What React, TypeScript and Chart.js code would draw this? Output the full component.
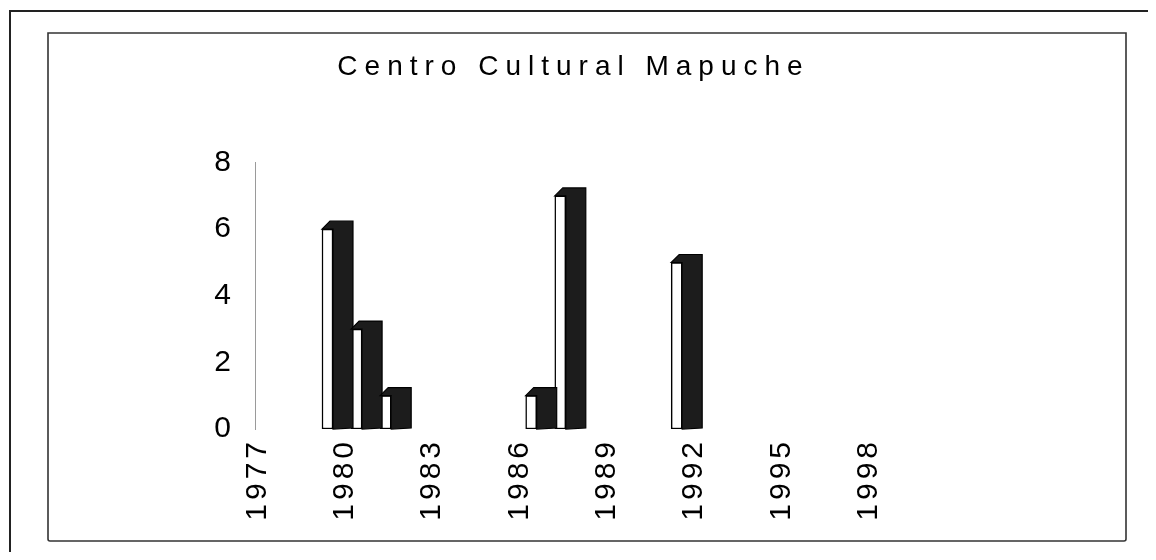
import React, { useEffect, useRef } from 'react';
import { Chart, registerables } from 'chart.js';

Chart.register(...registerables);

const TITLE = 'Centro Cultural Mapuche';
const BAR_YEARS = [1980, 1981, 1982, 1987, 1988, 1992];
const BAR_VALUES = [6, 3, 1, 1, 7, 5];
const X_TICK_YEARS = [1977, 1980, 1983, 1986, 1989, 1992, 1995, 1998];
const Y_TICKS = [0, 2, 4, 6, 8];

const W = 1140;
const H = 544;
const FONT = "'Liberation Sans', Arial, Helvetica, sans-serif";
const PX_PER_YEAR = 29.1;
const AREA_LEFT = 247;
const AREA_RIGHT = 1111;
const SPAN = (AREA_RIGHT - AREA_LEFT) / PX_PER_YEAR;

const framePlugin = {
  id: 'frame',
  beforeDraw(chart: any) {
    const ctx = chart.ctx;
    ctx.save();
    ctx.fillStyle = '#ffffff';
    ctx.fillRect(0, 0, W, H);
    ctx.strokeStyle = '#222';
    ctx.lineWidth = 2;
    ctx.beginPath();
    ctx.moveTo(2, H);
    ctx.lineTo(2, 3);
    ctx.lineTo(W, 3);
    ctx.stroke();
    ctx.strokeStyle = '#333';
    ctx.lineWidth = 1.6;
    ctx.beginPath();
    ctx.moveTo(40, 27);
    ctx.lineTo(40, 531);
    ctx.quadraticCurveTo(40, 533, 42, 533);
    ctx.lineTo(1116, 533);
    ctx.quadraticCurveTo(1118, 533, 1118, 531);
    ctx.lineTo(1118, 25);
    ctx.lineTo(40, 25);
    ctx.closePath();
    ctx.stroke();
    ctx.restore();

    // letter spacing for title and x tick labels
    const tb: any = chart.titleBlock;
    if (tb && !tb.__ls) {
      const orig = tb.draw.bind(tb);
      tb.draw = (a: any) => {
        const c: any = chart.ctx;
        c.save();
        c.letterSpacing = '7px';
        orig(a);
        c.restore();
      };
      tb.__ls = true;
    }
    const sx: any = chart.scales.x;
    if (sx && !sx.__ls) {
      const origL = sx.drawLabels.bind(sx);
      sx.drawLabels = (a: any) => {
        const c: any = chart.ctx;
        c.save();
        c.letterSpacing = '4px';
        origL(a);
        c.restore();
      };
      sx.__ls = true;
    }
  },
};

const bar3dPlugin = {
  id: 'bar3d',
  afterDatasetsDraw(chart: any) {
    const ctx = chart.ctx;
    const meta = chart.getDatasetMeta(0);
    ctx.save();
    meta.data.forEach((el: any) => {
      const { x, y, base, width } = el.getProps(['x', 'y', 'base', 'width'], true);
      const L = x - width / 2;
      const R = x + width / 2;
      const side = 20;
      const rise = 8;
      ctx.beginPath();
      ctx.moveTo(L, y);
      ctx.lineTo(L + rise, y - rise);
      ctx.lineTo(R + side, y - rise);
      ctx.lineTo(R + side, base - 1);
      ctx.lineTo(R, base);
      ctx.lineTo(R, y);
      ctx.closePath();
      ctx.fillStyle = '#1c1c1c';
      ctx.fill();
      ctx.strokeStyle = '#000';
      ctx.lineWidth = 1.2;
      ctx.stroke();
    });
    ctx.restore();
  },
};

export default function App() {
  const ref = useRef<HTMLCanvasElement | null>(null);

  useEffect(() => {
    if (!ref.current) return;
    const chart = new Chart(ref.current, {
      type: 'bar',
      data: {
        datasets: [
          {
            label: TITLE,
            data: BAR_YEARS.map((yr, i) => ({ x: yr, y: BAR_VALUES[i] })) as any,
            xAxisID: 'xb',
            yAxisID: 'y',
            backgroundColor: '#ffffff',
            borderColor: '#000000',
            borderWidth: 1.5,
            borderSkipped: false,
            barThickness: 11,
          },
        ],
      },
      options: {
        responsive: false,
        animation: false,
        devicePixelRatio: 1,
        layout: { padding: { top: 20, left: 20, right: W - AREA_RIGHT, bottom: 0 } },
        plugins: {
          legend: { display: false },
          tooltip: { enabled: false },
          title: {
            display: true,
            text: TITLE,
            color: '#000',
            font: { family: FONT, size: 28, weight: 'normal' as any, lineHeight: 1.2 },
            padding: { top: 22, bottom: 79 },
          },
        },
        scales: {
          x: {
            type: 'linear',
            position: 'bottom',
            offset: false,
            min: 1977,
            max: 1977 + SPAN,
            afterBuildTicks: (s: any) => {
              s.ticks = X_TICK_YEARS.map((v) => ({ value: v }));
            },
            afterFit: (s: any) => {
              s.height = 123;
            },
            ticks: {
              autoSkip: false,
              minRotation: 90,
              maxRotation: 90,
              labelOffset: 2.5,
              padding: 9,
              color: '#000',
              font: { family: FONT, size: 30 },
              callback: (v: any) => String(v),
            },
            grid: { display: false, drawTicks: false },
            border: { display: false },
          },
          xb: {
            type: 'linear',
            display: false,
            offset: false,
            min: 1977.509,
            max: 1977.509 + SPAN,
          },
          y: {
            type: 'linear',
            min: 0,
            max: 8,
            afterBuildTicks: (s: any) => {
              s.ticks = Y_TICKS.map((v) => ({ value: v }));
            },
            afterFit: (s: any) => {
              s.width = AREA_LEFT - 20;
            },
            ticks: {
              padding: 24,
              color: '#000',
              font: { family: FONT, size: 30 },
            },
            grid: { display: false, drawTicks: false },
            border: { display: true, color: '#9a9a9a', width: 1, dash: [2, 3] },
          },
        },
      } as any,
      plugins: [framePlugin, bar3dPlugin],
    });
    return () => chart.destroy();
  }, []);

  return (
    <div style={{ width: W, height: H }}>
      <canvas ref={ref} width={W} height={H} style={{ display: 'block', width: W, height: H }} />
    </div>
  );
}
